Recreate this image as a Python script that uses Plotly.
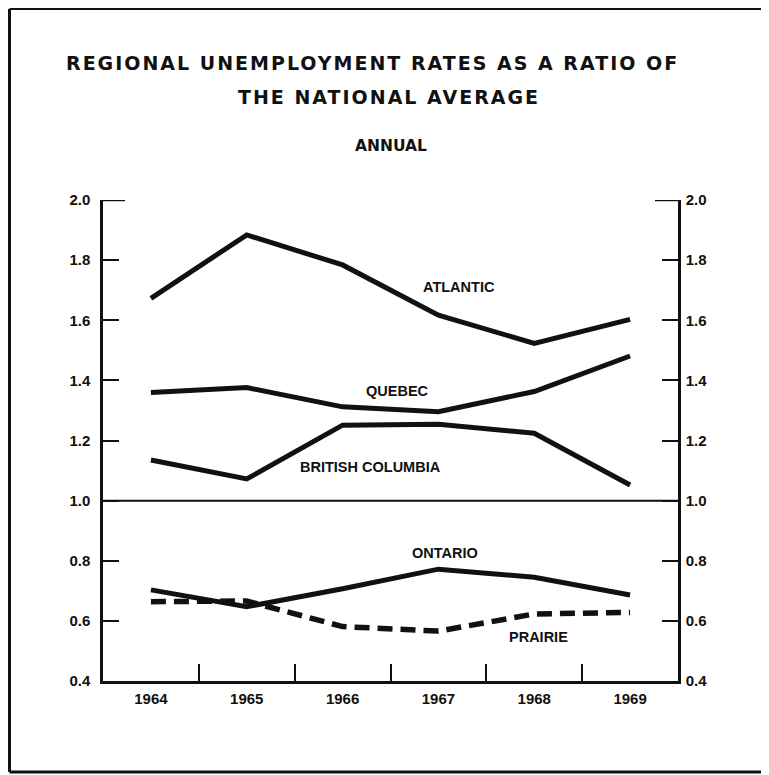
import plotly.graph_objects as go

# ---------------- data ----------------
years = [1964, 1965, 1966, 1967, 1968, 1969]
atlantic = [1.673, 1.884, 1.784, 1.617, 1.523, 1.603]
quebec = [1.360, 1.376, 1.312, 1.296, 1.363, 1.481]
british_columbia = [1.135, 1.072, 1.251, 1.254, 1.224, 1.052]
ontario = [0.703, 0.647, 0.707, 0.772, 0.745, 0.686]
prairie = [0.664, 0.666, 0.581, 0.566, 0.623, 0.628]

y_ticks = [0.4, 0.6, 0.8, 1.0, 1.2, 1.4, 1.6, 1.8, 2.0]
y_tick_labels = ["0.4", "0.6", "0.8", "1.0", "1.2", "1.4", "1.6", "1.8", "2.0"]
year_labels = ["1964", "1965", "1966", "1967", "1968", "1969"]
half_year_ticks = [1964.5, 1965.5, 1966.5, 1967.5, 1968.5]

series_names = ["ATLANTIC", "QUEBEC", "BRITISH COLUMBIA", "ONTARIO", "PRAIRIE"]
label_x = [1967.21, 1966.57, 1966.29, 1967.07, 1968.04]
label_y = [1.710, 1.366, 1.111, 0.825, 0.547]

title_line1 = "REGIONAL UNEMPLOYMENT RATES AS A RATIO OF"
title_line2 = "THE NATIONAL AVERAGE"
subtitle = "ANNUAL"

# ---------------- layout geometry ----------------
OFF = 8  # page body margin
W, H = 761, 767
L, T = 95, 192
PW, PH = 575, 481
R = W - L - PW
B = H - T - PH


def px_x(px):
    """screen pixel x -> paper x"""
    return (px - OFF - L) / PW


def px_y(py):
    """screen pixel y -> paper y"""
    return (T + PH - (py - OFF)) / PH


INK = "#111111"
FONT = "Liberation Sans, Arial, sans-serif"
TITLE_FONT = "DejaVu Sans, Verdana, sans-serif"

fig = go.Figure()

solid = [atlantic, quebec, british_columbia, ontario]
for vals in solid:
    fig.add_trace(go.Scatter(
        x=years, y=vals, mode="lines",
        line=dict(color=INK, width=5),
        hoverinfo="skip", showlegend=False,
    ))

fig.add_trace(go.Scatter(
    x=years, y=prairie, mode="lines",
    line=dict(color=INK, width=5.5, dash="15px,8px"),
    hoverinfo="skip", showlegend=False,
))

# invisible trace to anchor right-hand axis
fig.add_trace(go.Scatter(
    x=years, y=atlantic, mode="lines", yaxis="y2",
    line=dict(color="rgba(0,0,0,0)", width=0),
    hoverinfo="skip", showlegend=False,
))

tickfont = dict(family=FONT, size=15, color=INK, weight="bold")

yaxis_common = dict(
    range=[0.4, 2.0], tickmode="array", tickvals=y_ticks, ticktext=y_tick_labels,
    ticks="inside", ticklen=16, tickwidth=2, tickcolor=INK,
    showline=True, linewidth=2.5, linecolor=INK,
    showgrid=False, zeroline=False, tickfont=tickfont, fixedrange=True,
)

fig.update_layout(
    width=W, height=H,
    margin=dict(l=L, r=R, t=T, b=B),
    paper_bgcolor="white", plot_bgcolor="white",
    showlegend=False,
    xaxis=dict(
        range=[1963.5, 1969.5], tickmode="array", tickvals=years, ticktext=year_labels,
        ticks="", showline=True, linewidth=2.5, linecolor=INK,
        showgrid=False, zeroline=False, tickfont=tickfont, ticklabelstandoff=2,
        minor=dict(tickmode="array", tickvals=half_year_ticks, ticks="inside",
                   ticklen=17, tickwidth=2, tickcolor=INK, showgrid=False),
        fixedrange=True,
    ),
    yaxis=dict(**yaxis_common, side="left", ticklabelstandoff=7),
    yaxis2=dict(**yaxis_common, side="right", overlaying="y", anchor="x",
                ticklabelstandoff=2),
)

shapes = []
# reference line at 1.0
shapes.append(dict(type="line", xref="x domain", yref="y", x0=0, x1=1, y0=1.0, y1=1.0,
                   line=dict(color=INK, width=2)))
# corner ticks at 2.0
shapes.append(dict(type="line", xref="x domain", yref="y", x0=0, x1=22 / PW, y0=2.0, y1=2.0,
                   line=dict(color=INK, width=2.5)))
shapes.append(dict(type="line", xref="x domain", yref="y", x0=1 - 23 / PW, x1=1, y0=2.0, y1=2.0,
                   line=dict(color=INK, width=2.5)))
# outer frame
fx0, fx1, fy0, fy1 = 9.5, 766, 9, 772
shapes.append(dict(type="line", xref="paper", yref="paper", x0=px_x(fx0), x1=px_x(fx0),
                   y0=px_y(fy0), y1=px_y(fy1), line=dict(color=INK, width=3)))
shapes.append(dict(type="line", xref="paper", yref="paper", x0=px_x(fx0), x1=px_x(fx1),
                   y0=px_y(fy0), y1=px_y(fy0), line=dict(color=INK, width=2)))
shapes.append(dict(type="line", xref="paper", yref="paper", x0=px_x(fx0), x1=px_x(fx1),
                   y0=px_y(fy1), y1=px_y(fy1), line=dict(color=INK, width=3)))
shapes.append(dict(type="line", xref="paper", yref="paper", x0=px_x(fx1), x1=px_x(fx1),
                   y0=px_y(fy0), y1=px_y(fy1), line=dict(color="#bbbbbb", width=1)))
fig.update_layout(shapes=shapes)

annotations = []
for name, lx, ly in zip(series_names, label_x, label_y):
    annotations.append(dict(
        x=lx, y=ly, xref="x", yref="y", text=name, showarrow=False,
        xanchor="center", yanchor="middle",
        font=dict(family=FONT, size=14.5, color=INK, weight="bold"),
    ))

annotations.append(dict(
    x=px_x(372.5), y=px_y(63), xref="paper", yref="paper",
    text='<span style="letter-spacing:2px">' + title_line1 + "</span>",
    showarrow=False, xanchor="center", yanchor="middle",
    font=dict(family=TITLE_FONT, size=19, color=INK, weight="bold"),
))
annotations.append(dict(
    x=px_x(389), y=px_y(97.5), xref="paper", yref="paper",
    text='<span style="letter-spacing:2px">' + title_line2 + "</span>",
    showarrow=False, xanchor="center", yanchor="middle",
    font=dict(family=TITLE_FONT, size=19, color=INK, weight="bold"),
))
annotations.append(dict(
    x=px_x(391), y=px_y(146), xref="paper", yref="paper",
    text=subtitle, showarrow=False, xanchor="center", yanchor="middle",
    font=dict(family=TITLE_FONT, size=15.5, color=INK, weight="bold"),
))
fig.update_layout(annotations=annotations)

fig.write_html("out.html")
